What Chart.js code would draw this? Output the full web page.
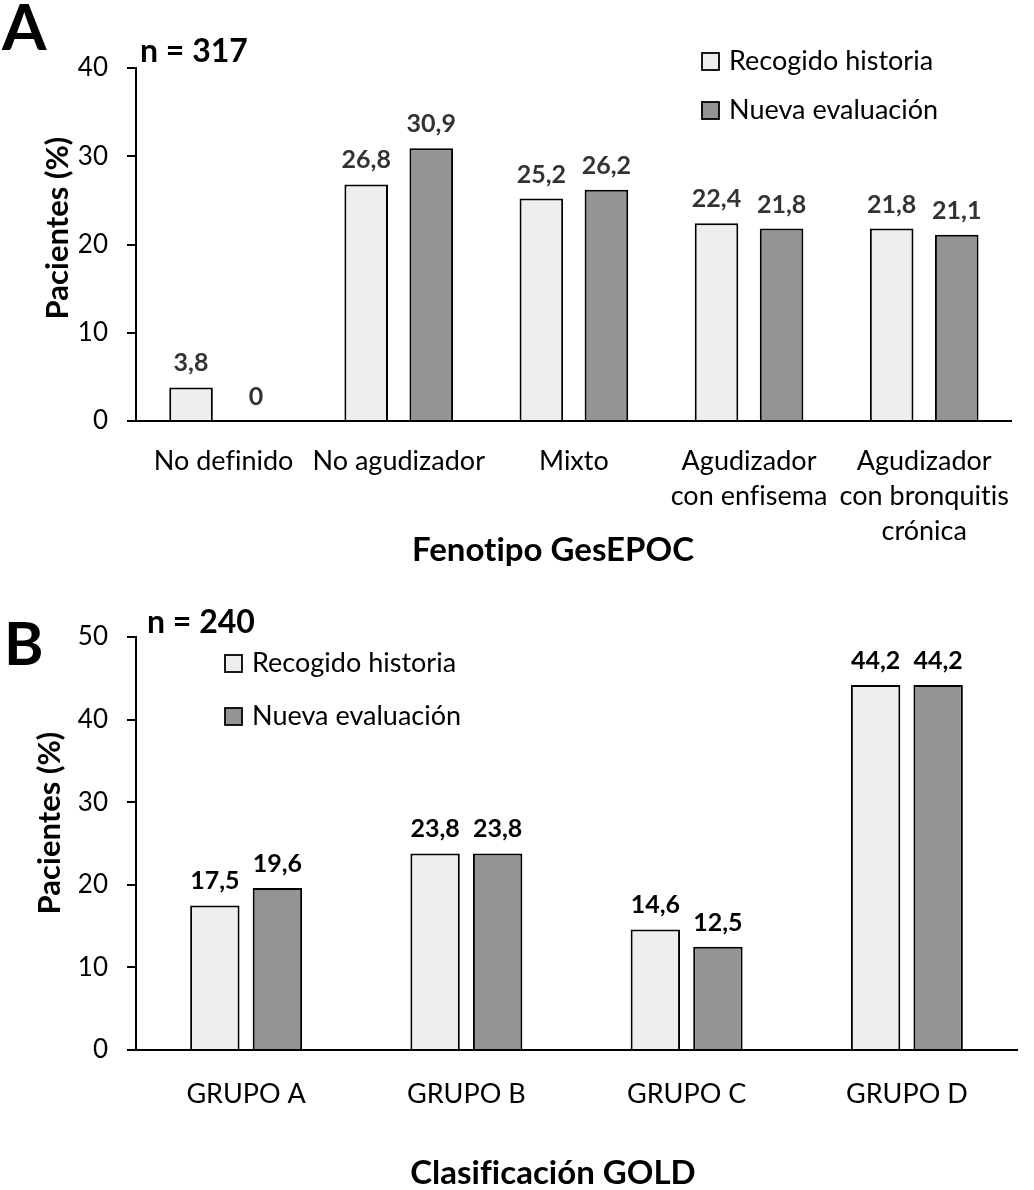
<!DOCTYPE html>
<html><head><meta charset="utf-8">
<script src="https://cdn.jsdelivr.net/npm/chart.js@4.4.1/dist/chart.umd.min.js"></script>
<style>
html,body{margin:0;padding:0;background:#fff;}
#wrap{position:relative;width:1034px;height:1190px;background:#fff;}
#ca{position:absolute;left:0;top:0;}
#cb{position:absolute;left:0;top:600px;}
canvas{font-variant-ligatures:none;}
</style></head><body>
<div id="wrap"><canvas id="ca"></canvas><canvas id="cb"></canvas></div>
<script>
// ---------- DATA ----------
const seriesNames = ['Recogido historia', 'Nueva evaluación'];
const categoriesA = [['No definido'], ['No agudizador'], ['Mixto'], ['Agudizador', 'con enfisema'], ['Agudizador', 'con bronquitis', 'crónica']];
const historiaA = [3.8, 26.8, 25.2, 22.4, 21.8];
const nuevaA = [0, 30.9, 26.2, 21.8, 21.1];
const categoriesB = ['GRUPO A', 'GRUPO B', 'GRUPO C', 'GRUPO D'];
const historiaB = [17.5, 23.8, 14.6, 44.2];
const nuevaB = [19.6, 23.8, 12.5, 44.2];
const yTicksA = [0, 10, 20, 30, 40];
const yTicksB = [0, 10, 20, 30, 40, 50];
const titlesA = { letter: 'A', n: 'n = 317', x: 'Fenotipo GesEPOC', y: 'Pacientes (%)' };
const titlesB = { letter: 'B', n: 'n = 240', x: 'Clasificación GOLD', y: 'Pacientes (%)' };
// ---------------------------

const FONT = 'Lato, "Open Sans", "DejaVu Sans", sans-serif';
const LIGHT = '#eeeeee', DARK = '#949494';

function fmt(v) { return String(v).replace('.', ','); }

const noLigPlugin = {
  id: 'noLig',
  beforeDraw(chart) {
    const ctx = chart.ctx;
    if ('letterSpacing' in ctx) ctx.letterSpacing = '0.01px';
  }
};

const panelPlugin = {
  id: 'panel',
  afterDraw(chart, args, o) {
    const ctx = chart.ctx;
    ctx.save();
    if ('letterSpacing' in ctx) ctx.letterSpacing = '0.01px';
    ctx.fillStyle = '#000';
    ctx.textAlign = 'left';
    ctx.textBaseline = 'alphabetic';
    ctx.font = `bold ${o.letterSize}px ${FONT}`;
    ctx.fillText(o.titles.letter, o.letterX, o.letterY);
    ctx.font = `bold 32px ${FONT}`;
    ctx.fillText(o.titles.n, o.nX, o.nY);

    // data labels
    ctx.font = `bold 25px ${FONT}`;
    ctx.textAlign = 'center';
    ctx.fillStyle = o.labelColor;
    chart.data.datasets.forEach((ds, di) => {
      const meta = chart.getDatasetMeta(di);
      meta.data.forEach((bar, i) => {
        ctx.fillText(fmt(ds.data[i]), bar.x, bar.y - 16);
      });
    });

    // x title
    ctx.fillStyle = '#000';
    ctx.font = `bold 33px ${FONT}`;
    ctx.textBaseline = 'middle';
    ctx.fillText(o.titles.x, o.xTitleX, o.xTitleY);

    // y title
    ctx.save();
    ctx.translate(o.yTitleX, o.yTitleY);
    ctx.rotate(-Math.PI / 2);
    ctx.font = `bold 31px ${FONT}`;
    ctx.fillText(o.titles.y, 0, 0);
    ctx.restore();

    // legend
    ctx.font = `27px ${FONT}`;
    ctx.textAlign = 'left';
    ctx.textBaseline = 'middle';
    chart.data.datasets.forEach((ds, di) => {
      const y = o.legY + di * o.legStep;
      ctx.fillStyle = ds.backgroundColor;
      ctx.fillRect(o.legX, y, 17, 17);
      ctx.strokeStyle = '#000';
      ctx.lineWidth = 1.8;
      ctx.strokeRect(o.legX, y, 17, 17);
      ctx.fillStyle = '#000';
      ctx.fillText(ds.label, o.legX + 27, y + 8);
    });
    ctx.restore();
  }
};

function makeChart(id, w, h, cats, s1, s2, yTicks, cfg) {
  const el = document.getElementById(id);
  el.width = w; el.height = h;
  el.style.width = w + 'px'; el.style.height = h + 'px';
  return new Chart(el, {
    type: 'bar',
    data: {
      labels: cats,
      datasets: [
        { label: seriesNames[0], data: s1, backgroundColor: LIGHT, borderColor: '#000', borderWidth: 2,
          categoryPercentage: cfg.catPct, barPercentage: cfg.barPct },
        { label: seriesNames[1], data: s2, backgroundColor: DARK, borderColor: '#000', borderWidth: 2,
          categoryPercentage: cfg.catPct, barPercentage: cfg.barPct }
      ]
    },
    options: {
      responsive: false,
      animation: false,
      devicePixelRatio: 1,
      layout: { padding: { top: cfg.top, right: cfg.right, left: 0, bottom: 0 } },
      plugins: {
        legend: { display: false },
        tooltip: { enabled: false },
        panel: cfg.panel
      },
      scales: {
        x: {
          type: 'category',
          grid: { display: false, drawTicks: false },
          border: { display: true, color: '#000', width: 2 },
          ticks: { color: '#000', font: { family: FONT, size: 27, lineHeight: 1.3 }, padding: cfg.xPad,
                   maxRotation: 0, minRotation: 0, autoSkip: false },
          afterFit(s) { s.height = cfg.xHeight; }
        },
        y: {
          min: yTicks[0], max: yTicks[yTicks.length - 1],
          afterBuildTicks(s) { s.ticks = yTicks.map(v => ({ value: v })); },
          grid: { display: true, drawOnChartArea: false, drawTicks: true, tickLength: 9, color: '#000', lineWidth: 2 },
          border: { display: true, color: '#000', width: 2 },
          ticks: { color: '#000', font: { family: FONT, size: 26 }, padding: 19 },
          afterFit(s) { s.width = 136; }
        }
      }
    },
    plugins: [noLigPlugin, panelPlugin]
  });
}

makeChart('ca', 1034, 600, categoriesA, historiaA, nuevaA, yTicksA, {
  catPct: 0.743, barPct: 0.67, top: 68, right: 22, xHeight: 179, xPad: 23,
  panel: { titles: titlesA, letterSize: 64, letterX: 2, letterY: 50, nX: 140, nY: 62,
           labelColor: '#333333', xTitleX: 553, xTitleY: 550, yTitleX: 58, yTitleY: 228,
           legX: 702, legY: 53, legStep: 49 }
});
makeChart('cb', 1034, 590, categoriesB, historiaB, nuevaB, yTicksB, {
  catPct: 0.568, barPct: 0.79, top: 37, right: 17, xHeight: 140, xPad: 27,
  panel: { titles: titlesB, letterSize: 60, letterX: 4, letterY: 65, nX: 147, nY: 33,
           labelColor: '#000000', xTitleX: 553, xTitleY: 573, yTitleX: 50, yTitleY: 223,
           legX: 225, legY: 55, legStep: 53 }
});
</script>
</body></html>
